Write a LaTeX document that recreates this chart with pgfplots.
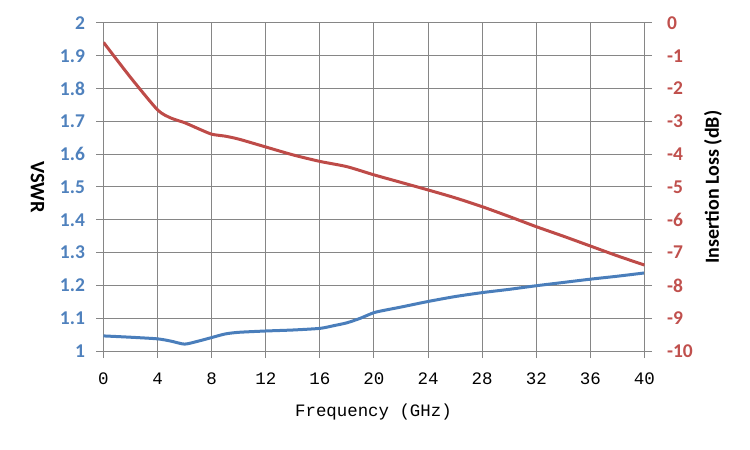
\documentclass[border=0pt]{standalone}
\usepackage{fontspec}
\setmainfont{Carlito}
\newfontfamily\monofont{Liberation Mono}
\usepackage{pgfplots}
\pgfplotsset{compat=1.18}
\definecolor{vblue}{HTML}{4A7EBB}
\definecolor{vred}{HTML}{BE4B48}
\definecolor{tblue}{HTML}{4F81BD}
\definecolor{tred}{HTML}{C0504D}
\definecolor{gridgray}{HTML}{868686}
\begin{document}
\begin{tikzpicture}
\useasboundingbox (-103.5pt,-99pt) rectangle (646.5pt,351pt);
\begin{axis}[
  at={(0pt,0pt)}, anchor=south west, scale only axis,
  width=541pt, height=328pt,
  xmin=0, xmax=40, ymin=1, ymax=2,
  xtick={0,4,8,12,16,20,24,28,32,36,40},
  ytick={1,1.1,1.2,1.3,1.4,1.5,1.6,1.7,1.8,1.9,2},
  yticklabels={1,1.1,1.2,1.3,1.4,1.5,1.6,1.7,1.8,1.9,2},
  xtick pos=left, ytick pos=left,
  grid=major, major grid style={gridgray, line width=1pt},
  axis line style={gridgray, line width=1pt},
  tick style={gridgray, line width=1pt}, tick align=outside, major tick length=7pt,
  /pgf/number format/assume math mode=true,
  xticklabel style={font=\monofont\fontsize{17.5}{17.5}\selectfont, text=black, yshift=-11pt},
  yticklabel style={font=\fontsize{19.5}{20}\selectfont\bfseries, text=tblue, xshift=-8pt},
  xlabel={Frequency (GHz)},
  xlabel style={font=\monofont\fontsize{17.4}{18}\selectfont, at={(axis description cs:0.499,-0.185)}, anchor=center},
  ylabel={VSWR},
  ylabel style={font=\fontsize{20.5}{21}\selectfont\bfseries, at={(axis description cs:-0.122,0.5)}, anchor=center, rotate=180},
]
\addplot[vblue, line width=3pt, smooth, tension=0.4] coordinates {
(0,1.046) (2,1.042) (4,1.037) (5,1.030) (6,1.021) (7,1.030) (8,1.041) (9,1.052) (10,1.057)
(12,1.061) (14,1.064) (16,1.069) (17,1.077) (18,1.086) (19,1.100) (20,1.117) (21,1.126)
(22,1.134) (24,1.151) (26,1.166) (28,1.178) (30,1.188) (32,1.199) (34,1.209) (36,1.219)
(38,1.228) (40,1.238)};
\end{axis}
\begin{axis}[
  at={(0pt,0pt)}, anchor=south west, scale only axis,
  width=541pt, height=328pt,
  xmin=0, xmax=40, ymin=-10, ymax=0,
  axis x line=none, axis y line*=right,
  ytick={-10,-9,-8,-7,-6,-5,-4,-3,-2,-1,0},
  axis line style={gridgray, line width=1pt},
  tick style={gridgray, line width=1pt}, tick align=outside, major tick length=7pt,
  /pgf/number format/assume math mode=true,
  yticklabel style={font=\fontsize{19.5}{20}\selectfont\bfseries, text=tred, xshift=12pt},
  ylabel={Insertion Loss (dB)},
  ylabel style={font=\fontsize{20}{21}\selectfont\bfseries, at={(axis description cs:1.1266,0.5)}, anchor=center},
]
\addplot[vred, line width=3pt, smooth, tension=0.4] coordinates {
(0,-0.59) (2,-1.66) (4,-2.65) (5,-2.90) (6,-3.04) (7,-3.22) (8,-3.39) (9,-3.45) (10,-3.54)
(12,-3.78) (14,-4.02) (16,-4.22) (18,-4.38) (20,-4.63) (22,-4.86) (24,-5.09) (26,-5.33)
(28,-5.60) (30,-5.90) (32,-6.21) (34,-6.50) (36,-6.80) (38,-7.10) (40,-7.38)};
\end{axis}
\end{tikzpicture}
\end{document}
